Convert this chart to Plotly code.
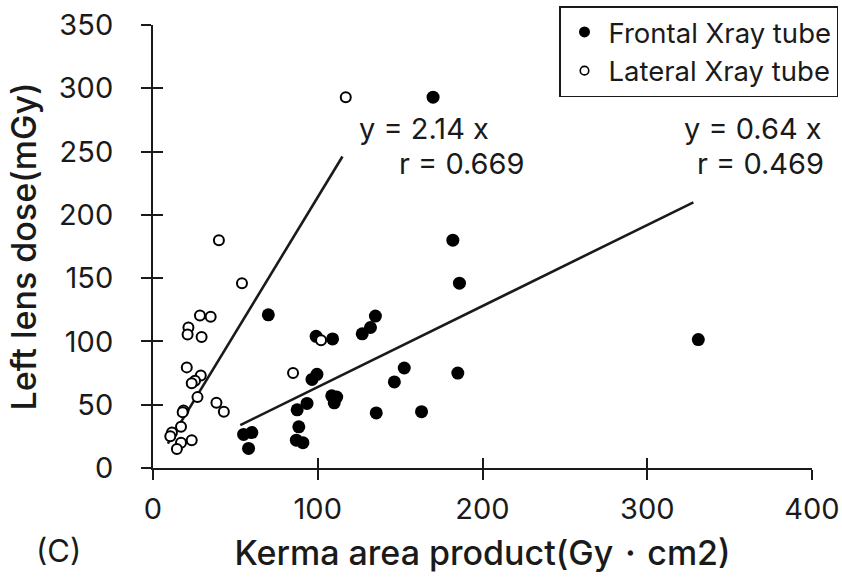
import plotly.graph_objects as go

# ---- data ----
frontal_x = [170, 182, 186, 185, 331, 70, 99, 109, 127, 132, 135, 96.5, 99.5,
             108.5, 111.5, 110, 93.5, 87.5, 88.5, 87, 91, 55, 60, 58, 135.5,
             163, 146.5, 152.5]
frontal_y = [293, 180, 146, 75, 101.5, 121, 104, 102, 106, 111, 120, 70, 74,
             57, 56, 51.5, 51, 46, 32.5, 22, 20, 26.5, 28, 15.5, 43.5,
             44.5, 68, 79]

lateral_x = [117, 40, 54, 28.5, 35, 21.5, 21, 29.5, 20.5, 29, 25.5, 23.5, 27,
             38.5, 43, 18.5, 18, 17, 11.5, 10.5, 17, 23.5, 14.5, 85, 102]
lateral_y = [293, 180, 146, 120.5, 119.5, 111, 105.5, 103.5, 79.5, 73, 69, 67, 56,
             51.5, 44.5, 45.5, 44, 32.5, 28, 25, 20, 22, 15, 75, 101]

frontal_slope = 0.64
lateral_slope = 2.14
frontal_fit_x = [53, 328]
lateral_fit_x = [9, 115]

x_ticks = [0, 100, 200, 300, 400]
y_ticks = [0, 50, 100, 150, 200, 250, 300, 350]

series_names = ["Frontal Xray tube", "Lateral Xray tube"]
x_title = "Kerma area product(Gy・cm2)"
y_title = "Left lens dose(mGy)"
panel_label = "(C)"
frontal_eq = ["y = 0.64 x", "r = 0.469"]
lateral_eq = ["y = 2.14 x", "r = 0.669"]

FONT = "Inter, Liberation Sans, sans-serif"
INK = "#1a1a1a"

W, H = 842, 580
ML, MR, MT, MB = 153, 4, 4, 112
PW, PH = W - ML - MR, H - MT - MB
X_DOMAIN = [0, (812 - ML) / PW]
Y_DOMAIN = [0, (H - MB - 25) / PH]


def px(xp):
    return (xp - ML) / PW


def py(yp):
    return (H - MB - yp) / PH


fig = go.Figure()

# fit lines
fig.add_trace(go.Scatter(x=frontal_fit_x, y=[frontal_slope * v for v in frontal_fit_x],
                         mode="lines", line=dict(color=INK, width=2.6),
                         showlegend=False, hoverinfo="skip"))
fig.add_trace(go.Scatter(x=lateral_fit_x, y=[lateral_slope * v for v in lateral_fit_x],
                         mode="lines", line=dict(color=INK, width=2.6),
                         showlegend=False, hoverinfo="skip"))

# data points
fig.add_trace(go.Scatter(x=frontal_x, y=frontal_y, mode="markers",
                         marker=dict(symbol="circle", size=13, color="black",
                                     line=dict(width=0)),
                         name=series_names[0], showlegend=False))
fig.add_trace(go.Scatter(x=lateral_x, y=lateral_y, mode="markers",
                         marker=dict(symbol="circle", size=10, color="white",
                                     line=dict(color="black", width=2)),
                         name=series_names[1], showlegend=False))

# legend entries (smaller symbols as in reference)
fig.add_trace(go.Scatter(x=[None], y=[None], mode="markers",
                         marker=dict(symbol="circle", size=11, color="black"),
                         name=series_names[0]))
fig.add_trace(go.Scatter(x=[None], y=[None], mode="markers",
                         marker=dict(symbol="circle", size=8.5, color="white",
                                     line=dict(color="black", width=1.6)),
                         name=series_names[1]))

# invisible trace hosting the overlay axes (inner half of crossing ticks)
fig.add_trace(go.Scatter(x=[x_ticks[0]], y=[y_ticks[0]], xaxis="x2", yaxis="y2",
                         mode="markers", marker=dict(opacity=0, size=1),
                         showlegend=False, hoverinfo="skip"))

tick_font = dict(family=FONT, size=29, color=INK)
title_font = dict(family=FONT, size=34, color=INK, weight=500)

fig.update_layout(
    width=W, height=H,
    margin=dict(l=ML, r=MR, t=MT, b=MB, autoexpand=False),
    paper_bgcolor="white", plot_bgcolor="white",
    font=dict(family=FONT, color=INK),
    xaxis=dict(domain=X_DOMAIN, range=[0, 400], tickvals=x_ticks, ticks="outside",
               ticklen=10, tickcolor=INK, tickwidth=2, tickfont=tick_font,
               showline=True, linecolor=INK, linewidth=2, automargin=False,
               showgrid=False, zeroline=False, ticklabelstandoff=4,
               title=dict(text=x_title, font=title_font, standoff=16)),
    yaxis=dict(domain=Y_DOMAIN, range=[0, 350], tickvals=y_ticks, ticks="outside",
               ticklen=10, tickcolor=INK, tickwidth=2, tickfont=tick_font,
               showline=True, linecolor=INK, linewidth=2, automargin=False,
               showgrid=False, zeroline=False, ticklabelstandoff=22,
               title=dict(text=y_title, font=title_font, standoff=12)),
    xaxis2=dict(domain=X_DOMAIN, range=[0, 400], tickvals=x_ticks, ticks="inside",
                ticklen=10, overlaying="x", anchor="y", showticklabels=False,
                showline=False, showgrid=False, zeroline=False, automargin=False,
                tickcolor=INK, tickwidth=2),
    yaxis2=dict(domain=Y_DOMAIN, range=[0, 350], tickvals=y_ticks, ticks="inside",
                ticklen=10, overlaying="y", anchor="x", showticklabels=False,
                showline=False, showgrid=False, zeroline=False, automargin=False,
                tickcolor=INK, tickwidth=2),
    legend=dict(x=px(838), xanchor="right", y=py(6), yanchor="top",
                bgcolor="white", bordercolor=INK, borderwidth=1.5,
                font=dict(family=FONT, size=27.5, color=INK),
                itemwidth=38, tracegroupgap=0),
    showlegend=True,
)

ann_font = dict(family=FONT, size=29, color=INK)
fig.add_annotation(x=px(357), y=py(128), xref="paper", yref="paper", text=lateral_eq[0],
                   showarrow=False, xanchor="left", yanchor="middle", font=ann_font)
fig.add_annotation(x=px(397), y=py(163), xref="paper", yref="paper", text=lateral_eq[1],
                   showarrow=False, xanchor="left", yanchor="middle", font=ann_font)
fig.add_annotation(x=px(824), y=py(128), xref="paper", yref="paper", text=frontal_eq[0],
                   showarrow=False, xanchor="right", yanchor="middle", font=ann_font)
fig.add_annotation(x=px(826), y=py(163), xref="paper", yref="paper", text=frontal_eq[1],
                   showarrow=False, xanchor="right", yanchor="middle", font=ann_font)
fig.add_annotation(x=px(58), y=py(550), xref="paper", yref="paper",
                   text=panel_label, showarrow=False, xanchor="center", yanchor="middle",
                   font=dict(family=FONT, size=31, color=INK))

fig.write_html("out.html")
